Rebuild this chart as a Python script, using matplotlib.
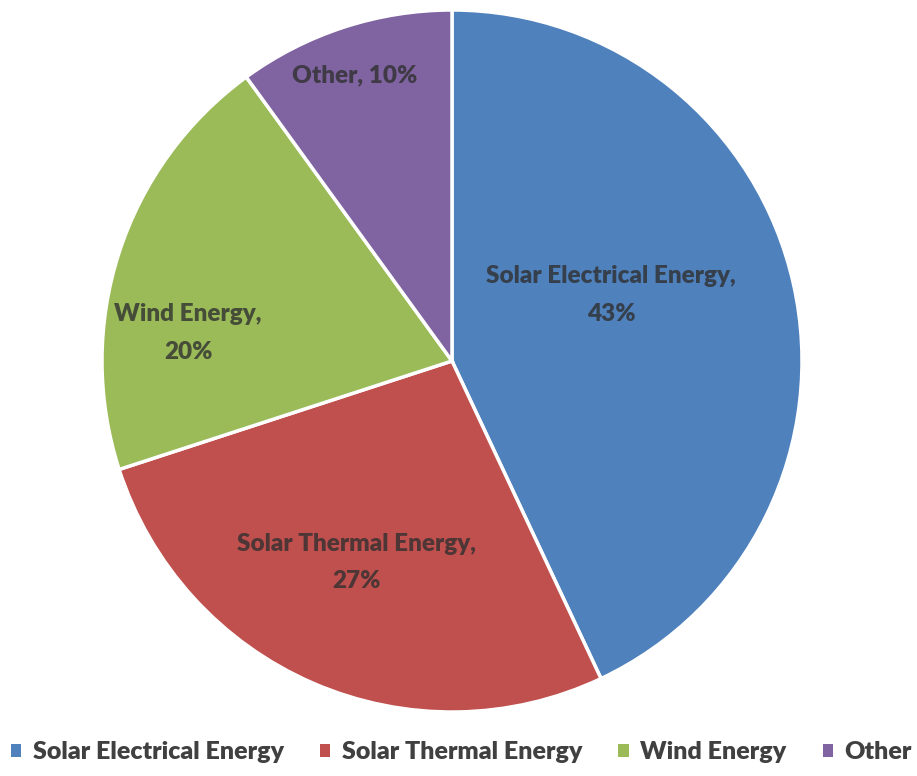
import matplotlib.pyplot as plt
from matplotlib.patches import Patch

categories = ['Solar Electrical Energy', 'Solar Thermal Energy', 'Wind Energy', 'Other']
shares = [43, 27, 20, 10]
colors = ['#4F81BD', '#C0504D', '#9BBB59', '#8064A2']
# label text positions (data coords, radius = 1)
label_xy = [(0.454, 0.188), (-0.274, -0.575), (-0.754, 0.080), (-0.277, 0.815)]
label_text = ['Solar Electrical Energy,\n43%', 'Solar Thermal Energy,\n27%',
              'Wind Energy,\n20%', 'Other, 10%']

plt.rcParams['font.family'] = ['Lato', 'DejaVu Sans']

fig = plt.figure(figsize=(9.17, 7.76), dpi=100)
ax = fig.add_axes([102 / 917, 64 / 776, 700 / 917, 702 / 776])

ax.pie(shares, colors=colors, startangle=90, counterclock=False,
       wedgeprops=dict(edgecolor='white', linewidth=2.5), radius=1)
ax.set_xlim(-1.0, 1.0)
ax.set_ylim(-1.0, 1.0)
ax.set_aspect('auto')

for (x, y), t in zip(label_xy, label_text):
    ax.text(x, y, t, ha='center', va='center', fontsize=17.5, fontweight='heavy',
            color='#303030', alpha=0.8, linespacing=1.85)

handles = [Patch(facecolor=c, edgecolor='none') for c in colors]
fig.legend(handles, categories, loc='center', bbox_to_anchor=(0.503, (776 - 752) / 776),
           ncol=4, frameon=False, handlelength=0.42, handleheight=0.42,
           handletextpad=0.45, columnspacing=1.45,
           prop=dict(weight='heavy', size=18), labelcolor='#404040')

fig.savefig('out.png', dpi=100, facecolor='white')
